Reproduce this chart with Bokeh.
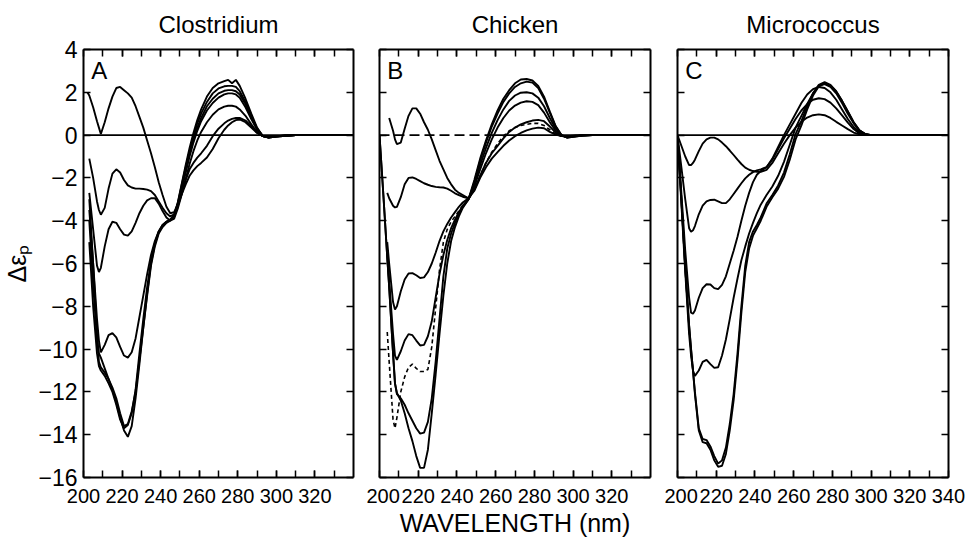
from bokeh.plotting import figure
from bokeh.models import LinearAxis, FixedTicker, Label, Range1d, Span
from bokeh.layouts import row
from bokeh.embed import file_html
from bokeh.resources import INLINE

N = float("nan")

# ---------------- Panel A : Clostridium ----------------
WL_A = [202, 203, 205, 207, 208, 209, 211, 213, 215, 217, 219, 221, 223, 225, 227, 229,
        231, 233, 235, 237, 239, 241, 243, 245, 247, 249, 251, 253, 255, 257, 259, 261,
        264, 267, 270, 273, 275, 277, 279, 281, 284, 287, 290, 293, 296, 300, 305, 310, 320, 340]
A1 = [2.0, 1.85, 1.3, 0.65, 0.35, 0.05, 0.6, 1.25, 1.8, 2.2, 2.25, 2.1, 1.95, 1.75, 1.35, 0.85,
      0.35, -0.25, -0.85, -1.5, -2.2, -2.8, -3.35, -3.65, -3.6, -3.2, -2.75, -2.3, -1.9, -1.65, -1.45, -1.3,
      -1.05, -0.65, -0.15, 0.25, 0.45, 0.6, 0.7, 0.73, 0.6, 0.35, 0.1, -0.05, -0.08, -0.05, -0.02, 0, 0, 0]
A2 = [N, -1.1, -2.0, -3.1, -3.5, -3.72, -3.4, -2.5, -1.8, -1.6, -1.75, -2.1, -2.35, -2.45, -2.5, -2.5,
      -2.52, -2.55, -2.62, -2.8, -3.1, -3.4, -3.65, -3.8, -3.7, -3.3, -2.7, -2.1, -1.6, -1.3, -1.05, -0.85,
      -0.5, -0.05, 0.3, 0.55, 0.68, 0.76, 0.8, 0.8, 0.68, 0.42, 0.12, -0.05, -0.08, -0.05, -0.02, 0, 0, 0]
A3 = [N, -2.7, -4.4, -6.1, -6.4, -6.2, -5.2, -4.4, -4.05, -4.1, -4.4, -4.65, -4.7, -4.5, -4.1, -3.65,
      -3.3, -3.05, -2.95, -2.95, -3.2, -3.55, -3.85, -4.0, -3.9, -3.4, -2.75, -2.05, -1.35, -0.75, -0.25, 0.15,
      0.6, 0.95, 1.2, 1.33, 1.37, 1.37, 1.33, 1.2, 0.9, 0.5, 0.15, -0.05, -0.1, -0.06, -0.02, 0, 0, 0]
A4 = [N, -3.5, -6.0, -8.6, -9.6, -10.15, -9.8, -9.35, -9.25, -9.45, -9.9, -10.3, -10.4, -10.15, -9.5, -8.5,
      -7.5, -6.5, -5.6, -4.95, -4.5, -4.2, -4.05, -3.95, -3.75, -3.2, -2.5, -1.75, -1.0, -0.35, 0.2, 0.65,
      1.15, 1.5, 1.75, 1.9, 1.95, 1.95, 1.9, 1.75, 1.3, 0.75, 0.25, -0.05, -0.1, -0.06, -0.02, 0, 0, 0]
A5 = [N, -3.0, -6.0, -9.3, -10.6, -10.85, -11.1, -11.4, -11.8, -12.3, -13.0, -13.6, -13.5, -12.9, -12.0, -10.5,
      -9.0, -7.5, -6.1, -5.2, -4.6, -4.3, -4.1, -4.0, -3.8, -3.2, -2.4, -1.6, -0.85, -0.2, 0.35, 0.8,
      1.35, 1.7, 1.95, 2.07, 2.1, 2.1, 2.05, 1.9, 1.45, 0.85, 0.3, -0.05, -0.12, -0.07, -0.03, 0, 0, 0]
A6 = [N, -4.0, -7.0, -9.5, -10.2, -10.4, -10.9, -11.4, -11.9, -12.5, -13.2, -13.8, -14.1, -13.6, -12.3, -10.7,
      -9.0, -7.4, -6.0, -5.1, -4.55, -4.25, -4.05, -3.95, -3.75, -3.1, -2.25, -1.4, -0.6, 0.1, 0.7, 1.2,
      1.8, 2.2, 2.42, 2.52, 2.58, 2.42, 2.58, 2.3, 1.7, 1.0, 0.35, -0.05, -0.12, -0.07, -0.03, 0, 0, 0]
A7 = [N, -5.0, -8.0, -10.2, -10.8, -11.0, -11.25, -11.6, -12.0, -12.6, -13.3, -13.7, -13.55, -13.0, -11.9, -10.2,
      -8.6, -7.1, -5.9, -5.05, -4.5, -4.2, -4.05, -3.95, -3.8, -3.15, -2.3, -1.5, -0.75, -0.05, 0.55, 1.0,
      1.55, 1.95, 2.18, 2.28, 2.3, 2.3, 2.25, 2.05, 1.55, 0.9, 0.3, -0.05, -0.12, -0.07, -0.03, 0, 0, 0]

# ---------------- Panel B : Chicken ----------------
WL_B = [200, 202, 204, 205, 207, 208, 209, 211, 213, 215, 217, 219, 221, 223, 225, 227,
        229, 231, 233, 235, 237, 239, 241, 243, 246, 249, 252, 255, 258, 261, 264, 267,
        270, 273, 276, 279, 282, 285, 288, 291, 294, 297, 300, 305, 310, 320, 340]
B1 = [N, N, N, 0.8, 0.2, -0.2, -0.42, -0.35, 0.3, 0.9, 1.25, 1.25, 1.0, 0.6, 0.25, -0.2,
      -0.7, -1.2, -1.6, -2.0, -2.3, -2.55, -2.7, -2.8, -2.95, -2.6, -2.0, -1.5, -1.1, -0.8, -0.5, -0.25,
      -0.05, 0.1, 0.22, 0.3, 0.35, 0.32, 0.15, 0.02, -0.05, -0.05, -0.03, 0, 0, 0, 0]
B2 = [N, N, -2.7, -2.95, -3.3, -3.38, -3.35, -2.9, -2.3, -2.0, -1.98, -2.05, -2.15, -2.25, -2.32, -2.38,
      -2.42, -2.44, -2.45, -2.5, -2.6, -2.72, -2.8, -2.88, -2.95, -2.55, -1.9, -1.3, -0.85, -0.5, -0.15, 0.15,
      0.35, 0.5, 0.6, 0.68, 0.71, 0.65, 0.4, 0.12, -0.05, -0.07, -0.04, 0, 0, 0, 0]
B3 = [N, N, -5.0, -6.0, -7.8, -8.15, -8.0, -7.3, -6.75, -6.47, -6.45, -6.55, -6.68, -6.65, -6.4, -6.0,
      -5.5, -4.95, -4.5, -4.15, -3.85, -3.6, -3.35, -3.15, -2.95, -2.4, -1.6, -0.85, -0.2, 0.35, 0.8, 1.15,
      1.38, 1.52, 1.58, 1.55, 1.4, 1.05, 0.6, 0.2, -0.02, -0.1, -0.06, -0.02, 0, 0, 0]
B4 = [N, N, -5.5, -6.8, -9.3, -10.3, -10.5, -10.1, -9.6, -9.3, -9.35, -9.6, -9.83, -9.8, -9.4, -8.7,
      -7.6, -6.5, -5.6, -4.9, -4.35, -3.95, -3.6, -3.3, -3.0, -2.3, -1.4, -0.6, 0.1, 0.7, 1.2, 1.6,
      1.85, 1.98, 2.0, 1.95, 1.75, 1.35, 0.8, 0.3, 0.0, -0.1, -0.06, -0.02, 0, 0, 0]
B5_DASHED = [N, N, -9.2, -10.6, -13.3, -13.7, -13.2, -12.0, -11.3, -10.85, -10.7, -10.9, -11.05, -11.05, -10.95, -9.9,
             -8.1, -6.3, -5.0, -4.4, -4.05, -3.8, -3.55, -3.3, -3.0, -2.55, -1.9, -1.3, -0.8, -0.4, -0.05, 0.2,
             0.35, 0.45, 0.5, 0.55, 0.55, 0.45, 0.25, 0.05, -0.05, -0.05, -0.03, 0, 0, 0, 0]
B6 = [0, -2.8, -5.7, -7.1, -10.2, -11.6, -12.1, -12.3, -12.6, -13.0, -13.35, -13.7, -13.95, -13.9, -13.4, -12.3,
      -10.6, -8.6, -6.6, -5.3, -4.6, -4.1, -3.7, -3.35, -3.0, -2.2, -1.2, -0.35, 0.4, 1.0, 1.55, 1.95,
      2.25, 2.42, 2.5, 2.45, 2.2, 1.7, 1.05, 0.4, 0.0, -0.12, -0.08, -0.02, 0, 0, 0]
B7 = [0, -2.8, -5.7, -7.1, -10.2, -11.6, -12.05, -12.4, -13.0, -13.7, -14.3, -15.0, -15.55, -15.55, -14.7, -13.0,
      -11.2, -9.3, -7.5, -6.0, -4.95, -4.3, -3.8, -3.4, -3.0, -2.1, -1.1, -0.25, 0.5, 1.15, 1.7, 2.1,
      2.42, 2.6, 2.62, 2.55, 2.3, 1.8, 1.1, 0.42, 0.0, -0.12, -0.08, -0.02, 0, 0, 0]
ZERO_DASH_B = [200, 258]
ZERO_SOLID_B = [258, 340]

# ---------------- Panel C : Micrococcus ----------------
WL_C = [200, 202, 204, 206, 207, 208, 209, 211, 213, 215, 217, 219, 221, 223, 225, 227,
        229, 231, 233, 235, 237, 239, 241, 243, 246, 249, 252, 255, 258, 261, 264, 267,
        270, 273, 276, 279, 282, 285, 288, 291, 294, 297, 300, 305, 310, 320, 340]
C1 = [0, -0.5, -1.0, -1.4, -1.4, -1.3, -1.15, -0.75, -0.4, -0.2, -0.12, -0.12, -0.2, -0.35, -0.52, -0.72,
      -0.93, -1.15, -1.35, -1.52, -1.62, -1.68, -1.72, -1.72, -1.62, -1.3, -0.85, -0.4, 0.0, 0.35, 0.62, 0.82,
      0.93, 0.97, 0.93, 0.8, 0.62, 0.45, 0.28, 0.12, 0.03, 0, 0, 0, 0, 0, 0]
C2 = [0, -1.5, -3.0, -4.35, -4.52, -4.45, -4.25, -3.7, -3.3, -3.1, -3.03, -3.02, -3.1, -3.18, -3.18, -3.0,
      -2.75, -2.5, -2.25, -2.02, -1.85, -1.73, -1.65, -1.6, -1.5, -1.15, -0.65, -0.15, 0.3, 0.75, 1.15, 1.45,
      1.65, 1.72, 1.68, 1.52, 1.25, 0.92, 0.58, 0.28, 0.08, 0, 0, 0, 0, 0, 0]
C3 = [0, -2.7, -5.4, -7.6, -8.3, -8.35, -8.2, -7.6, -7.15, -6.97, -6.98, -7.15, -7.2, -7.0, -6.6, -6.0,
      -5.4, -4.75, -4.0, -3.3, -2.7, -2.2, -1.85, -1.68, -1.5, -1.1, -0.55, 0.0, 0.5, 1.0, 1.5, 1.9,
      2.15, 2.25, 2.2, 2.0, 1.65, 1.2, 0.75, 0.38, 0.12, 0.02, 0, 0, 0, 0, 0]
C4 = [0, -3.2, -6.4, -9.3, -10.3, -11.0, -11.25, -11.0, -10.6, -10.5, -10.7, -10.88, -10.85, -10.3, -9.55, -8.6,
      -7.6, -6.7, -5.85, -5.2, -4.6, -4.1, -3.65, -3.25, -2.8, -2.4, -1.9, -1.25, -0.45, 0.35, 0.9, 1.45,
      1.95, 2.3, 2.38, 2.25, 1.95, 1.5, 1.0, 0.55, 0.2, 0.05, 0, 0, 0, 0, 0]
C5 = [0, -3.0, -6.2, -8.9, -10.0, -11.0, -12.0, -13.7, -14.2, -14.25, -14.55, -15.0, -15.35, -15.2, -14.6, -13.5,
      -12.1, -10.2, -8.0, -6.1, -5.0, -4.5, -4.2, -3.85, -3.2, -2.8, -2.35, -1.75, -0.9, 0.05, 0.65, 1.35,
      1.95, 2.35, 2.47, 2.35, 2.05, 1.6, 1.1, 0.6, 0.22, 0.05, 0, 0, 0, 0, 0]
C6 = [0, -3.0, -6.2, -8.9, -10.0, -11.0, -12.1, -13.8, -14.35, -14.4, -14.7, -15.2, -15.5, -15.45, -14.9, -13.8,
      -12.4, -10.5, -8.3, -6.4, -5.3, -4.7, -4.35, -4.0, -3.35, -2.9, -2.5, -1.95, -1.15, -0.2, 0.45, 1.2,
      1.85, 2.28, 2.42, 2.32, 2.03, 1.6, 1.1, 0.6, 0.22, 0.05, 0, 0, 0, 0, 0]

# ---------------- texts and ticks ----------------
TITLES = ["Clostridium", "Chicken", "Micrococcus"]
LETTERS = ["A", "B", "C"]
X_LABEL = "WAVELENGTH (nm)"
Y_LABEL = "\u0394\u03b5\u209a"
Y_TICKS = list(range(-16, 5, 2))
X_TICKS_AB = list(range(200, 321, 20))
X_TICKS_C = list(range(200, 341, 20))
X_MINOR = list(range(210, 340, 10))

FRAME_W = 271
FRAME_H = 429
H = 544
TOP = 48
SANS = "Liberation Sans"


def style_axis(ax, ticks, show_labels, size="23px", standoff=6):
    ax.axis_line_width = 2
    ax.axis_line_color = "black"
    ax.major_tick_in = 7
    ax.major_tick_out = 0
    ax.minor_tick_in = 7
    ax.minor_tick_out = 0
    ax.major_tick_line_width = 1.5
    ax.minor_tick_line_width = 1.5
    ax.major_tick_line_color = "black"
    ax.minor_tick_line_color = "black"
    if show_labels:
        ax.major_label_text_font = SANS
        ax.major_label_text_font_size = size
        ax.major_label_text_color = "black"
        ax.major_label_standoff = standoff
    else:
        ax.major_label_overrides = {t: "" for t in ticks}
        ax.major_label_text_font_size = "1px"
        ax.major_label_standoff = 0


def make_panel(wl, curves, dashed, title, letter, xticks, ylabels, bl, br, xlabel=None, ylabel=None):
    p = figure(width=bl + FRAME_W + br, height=H,
               x_range=Range1d(200, 340), y_range=Range1d(-16, 4),
               output_backend="svg", toolbar_location=None,
               x_axis_type=None, y_axis_type=None,
               min_border_left=bl, min_border_right=br,
               min_border_top=TOP, min_border_bottom=H - TOP - FRAME_H)
    p.outline_line_color = None
    p.background_fill_color = "white"
    p.border_fill_color = "white"

    p.title.text = title
    p.title.align = "center"
    p.title.vertical_align = "top"
    p.title.text_font = SANS
    p.title.text_font_size = "24px"
    p.title.text_font_style = "normal"
    p.title.text_color = "black"
    p.title.standoff = 20

    bottom = LinearAxis(ticker=FixedTicker(ticks=xticks, minor_ticks=X_MINOR))
    style_axis(bottom, xticks, True, "20px", 11)
    if xlabel:
        bottom.axis_label = xlabel
        bottom.axis_label_text_font = SANS
        bottom.axis_label_text_font_size = "25px"
        bottom.axis_label_text_font_style = "normal"
        bottom.axis_label_text_color = "black"
        bottom.axis_label_standoff = 3
    top = LinearAxis(ticker=FixedTicker(ticks=xticks, minor_ticks=X_MINOR))
    style_axis(top, xticks, False)
    left = LinearAxis(ticker=FixedTicker(ticks=Y_TICKS, minor_ticks=[]))
    style_axis(left, Y_TICKS, ylabels, "23px", 6)
    if ylabel:
        left.axis_label = ylabel
        left.axis_label_text_font = SANS
        left.axis_label_text_font_size = "25px"
        left.axis_label_text_font_style = "normal"
        left.axis_label_text_color = "black"
        left.axis_label_standoff = 4
    right = LinearAxis(ticker=FixedTicker(ticks=Y_TICKS, minor_ticks=[]))
    style_axis(right, Y_TICKS, False)
    p.add_layout(bottom, "below")
    p.add_layout(top, "above")
    p.add_layout(left, "left")
    p.add_layout(right, "right")

    for ys in curves:
        p.line(wl, ys, line_color="black", line_width=1.9)
    for ys in dashed:
        p.line(wl, ys, line_color="black", line_width=1.6, line_dash="4 3")

    p.add_layout(Label(x=204, y=3.0, text=letter, text_align="left", text_baseline="middle",
                       text_font=SANS, text_font_size="24px", text_color="black"))
    return p


pA = make_panel(WL_A, [A1, A2, A3, A4, A5, A6, A7], [], TITLES[0], LETTERS[0], X_TICKS_AB,
                True, 82, 13, ylabel=Y_LABEL)
pA.add_layout(Span(location=0, dimension="width", line_color="black", line_width=1.6))

pB = make_panel(WL_B, [B1, B2, B3, B4, B6, B7], [B5_DASHED], TITLES[1], LETTERS[1], X_TICKS_AB,
                False, 13, 14, xlabel=X_LABEL)
pB.line(ZERO_DASH_B, [0, 0], line_color="black", line_width=1.6, line_dash="10 5")
pB.line(ZERO_SOLID_B, [0, 0], line_color="black", line_width=1.6)

pC = make_panel(WL_C, [C1, C2, C3, C4, C5, C6], [], TITLES[2], LETTERS[2], X_TICKS_C,
                False, 13, 22)
pC.add_layout(Span(location=0, dimension="width", line_color="black", line_width=1.6))

layout = row(pA, pB, pC)
open("out.html", "w").write(file_html(layout, INLINE))
